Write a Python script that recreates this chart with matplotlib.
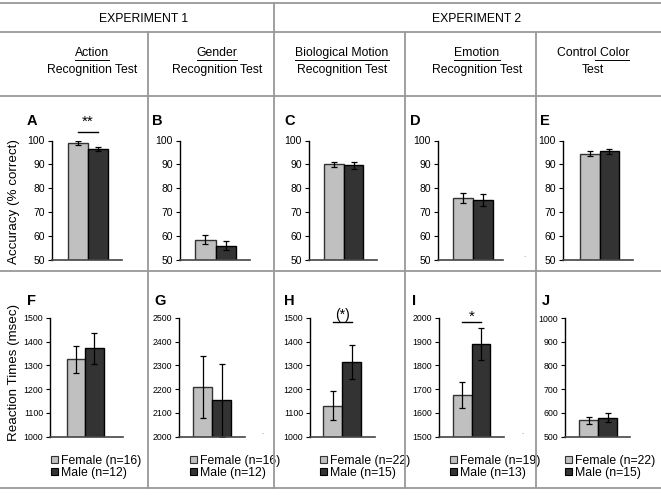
import matplotlib
matplotlib.use("Agg")
import matplotlib.pyplot as plt
from matplotlib.patches import Patch
from matplotlib.textpath import TextPath
from matplotlib.font_manager import FontProperties

plt.rcParams['font.family'] = ['Liberation Sans', 'DejaVu Sans']

# ---------------- data ----------------
panel_letters = ["A", "B", "C", "D", "E", "F", "G", "H", "I", "J"]
groups = ["Female", "Male"]

acc_female = [99.0, 58.5, 90.0, 76.0, 94.5]
acc_male = [96.5, 56.0, 89.7, 75.0, 95.5]
acc_female_err = [0.7, 1.8, 1.2, 2.0, 1.0]
acc_male_err = [0.7, 2.0, 1.5, 2.5, 1.0]

rt_female = [1325, 2210, 1130, 1675, 568]
rt_male = [1372, 2152, 1315, 1890, 580]
rt_female_err = [55, 130, 62, 55, 15]
rt_male_err = [65, 155, 73, 68, 18]

acc_ylim = (50, 100)
rt_ylims = [(1000, 1500), (2000, 2500), (1000, 1500), (1500, 2000), (500, 1000)]
rt_n_female = [16, 16, 22, 19, 22]
rt_n_male = [12, 12, 15, 13, 15]

experiments = ["EXPERIMENT 1", "EXPERIMENT 2"]
test_top = ["Action", "Gender", "Biological Motion", "Emotion", "Control Color"]
test_bottom = ["Recognition Test", "Recognition Test", "Recognition Test", "Recognition Test", "Test"]

acc_label = "Accuracy (% correct)"
rt_label = "Reaction Times (msec)"

# ---------------- layout (pixels) ----------------
W, H = 661, 496
fig = plt.figure(figsize=(W / 100, H / 100), dpi=100)

def fx(x):
    return x / W

def fy(y):
    return 1 - y / H

# axis spine x, female bar left x, bar width, baseline right end
top_geom = [(52, 68, 20, 122), (180, 195, 20.5, 250), (309, 324, 19.7, 377),
            (438, 453, 20, 503), (563, 580, 19.5, 633)]
bot_geom = [(50, 67, 18.3, 123), (179, 193, 19, 245), (310, 323, 19, 375),
            (439, 453, 18.7, 504), (565, 579, 19, 630)]
top_y = (140.5, 260)
bot_y = (318, 436.5)

FEMALE_C = "#c0c0c0"
MALE_C = "#333333"
GRID_C = "#999999"

def make_axes(geom, yr):
    ax_x, fl, bw, right = geom
    ytop, ybot = yr
    ax = fig.add_axes([fx(ax_x), fy(ybot), fx(right - ax_x), (ybot - ytop) / H])
    c0 = fl + bw / 2
    ax.set_xlim((ax_x - c0) / bw, (right - c0) / bw)
    return ax

def style(ax, ylim, step, tick_fs):
    ax.set_ylim(*ylim)
    ax.set_yticks(range(ylim[0], ylim[1] + 1, step))
    ax.set_xticks([])
    for s in ["top", "right"]:
        ax.spines[s].set_visible(False)
    ax.spines["left"].set_linewidth(1.0)
    ax.spines["left"].set_color("black")
    ax.spines["bottom"].set_linewidth(1.2)
    ax.spines["bottom"].set_color("#444444")
    ax.tick_params(axis="y", direction="out", length=3, width=0.8, pad=2,
                   labelsize=tick_fs)
    ax.patch.set_alpha(0)

def bars(ax, f, m, fe, me):
    ax.bar([0], [f], width=1.0, color=FEMALE_C, edgecolor="#333333", linewidth=1.0,
           yerr=[fe], error_kw=dict(ecolor="black", elinewidth=0.9, capsize=2, capthick=0.9))
    ax.bar([1], [m], width=1.0, color=MALE_C, edgecolor="black", linewidth=1.0,
           yerr=[me], error_kw=dict(ecolor="black", elinewidth=0.9, capsize=2, capthick=0.9))

top_axes = []
for i in range(5):
    ax = make_axes(top_geom[i], top_y)
    bars(ax, acc_female[i], acc_male[i], acc_female_err[i], acc_male_err[i])
    style(ax, acc_ylim, 10, 7.5)
    top_axes.append(ax)

bot_axes = []
for i in range(5):
    ax = make_axes(bot_geom[i], bot_y)
    bars(ax, rt_female[i], rt_male[i], rt_female_err[i], rt_male_err[i])
    style(ax, rt_ylims[i], 100, 6.3)
    bot_axes.append(ax)
    handles = [Patch(facecolor=FEMALE_C, edgecolor="#333333", linewidth=0.8),
               Patch(facecolor=MALE_C, edgecolor="black", linewidth=0.8)]
    labels = [f"Female (n={rt_n_female[i]})", f"Male (n={rt_n_male[i]})"]
    leg_x = [51, 190, 320, 450, 565][i]
    ax.legend(handles, labels, loc="upper left",
              bbox_to_anchor=(fx(leg_x), fy(455)), bbox_transform=fig.transFigure,
              frameon=False, borderpad=0, borderaxespad=0, handlelength=0.55,
              handleheight=0.55, handletextpad=0.25, labelspacing=0.0, fontsize=8.8)

# significance markers
def sig(ax, text, yline, ytext, fs):
    ax.plot([0, 1], [yline, yline], color="black", lw=1.0, clip_on=False)
    ax.text(0.5, ytext, text, ha="center", va="center", fontsize=fs, clip_on=False)

sig(top_axes[0], "**", 103.5, 108.0, 11)
sig(bot_axes[2], "(*)", 1483, 1513, 10)
sig(bot_axes[3], "*", 1983, 2005, 11)

# panel letters
top_letter_x = [27, 152, 284, 410, 540]
bot_letter_x = [27, 154, 284, 412, 542]
for i in range(5):
    fig.text(fx(top_letter_x[i]), fy(121), panel_letters[i], fontsize=10.5,
             fontweight="bold", ha="left", va="center")
    fig.text(fx(bot_letter_x[i]), fy(301), panel_letters[i + 5], fontsize=10.5,
             fontweight="bold", ha="left", va="center")

# stray dots present in the original figure
for (x, y) in [(524, 259), (262, 436), (522, 436)]:
    fig.text(fx(x), fy(y), ".", fontsize=6, color="#777777", ha="center", va="bottom")

# y axis labels
fig.text(fx(14), fy(201), acc_label, rotation=90, ha="center", va="center", fontsize=9.6)
fig.text(fx(14), fy(372), rt_label, rotation=90, ha="center", va="center", fontsize=9.6)

# grid lines of the table
def hline(y, x0=0, x1=W):
    fig.add_artist(plt.Line2D([fx(x0), fx(x1)], [fy(y), fy(y)], color=GRID_C, lw=1.3))

def vline(x, y0, y1):
    fig.add_artist(plt.Line2D([fx(x), fx(x)], [fy(y0), fy(y1)], color=GRID_C, lw=1.3))

for y in [3, 32, 95.5, 270.5, 488]:
    hline(y)
vline(274, 3, 488)
for x in [148, 405, 536]:
    vline(x, 32, 488)

# headers
fig.text(fx(144), fy(19), experiments[0], ha="center", va="center", fontsize=8.8)
fig.text(fx(477), fy(19), experiments[1], ha="center", va="center", fontsize=8.8)

title_cx = [92, 217, 342, 477, 593]
for i in range(5):
    fig.text(fx(title_cx[i]), fy(53), test_top[i], ha="center", va="center", fontsize=8.8)
    fig.text(fx(title_cx[i]), fy(70), test_bottom[i], ha="center", va="center", fontsize=8.8)

# underlines (measured from text extents)
fig.canvas.draw()
renderer = fig.canvas.get_renderer()
fp = FontProperties(family="Liberation Sans", size=8.8)
for t in fig.texts:
    s = t.get_text()
    if s in test_top[:4]:
        bb = t.get_window_extent(renderer)
        fig.add_artist(plt.Line2D([bb.x0 / W, bb.x1 / W], [fy(59.5), fy(59.5)],
                                  color="black", lw=0.7))
    elif s == "Control Color":
        bb = t.get_window_extent(renderer)
        w_all = TextPath((0, 0), "Control Color", prop=fp).get_extents().width
        w_first = TextPath((0, 0), "Control ", prop=fp).get_extents().width
        xs = bb.x0 + (bb.x1 - bb.x0) * (w_first / w_all)
        fig.add_artist(plt.Line2D([xs / W, bb.x1 / W], [fy(59.5), fy(59.5)],
                                  color="black", lw=0.7))

fig.savefig("out.png", dpi=100)
